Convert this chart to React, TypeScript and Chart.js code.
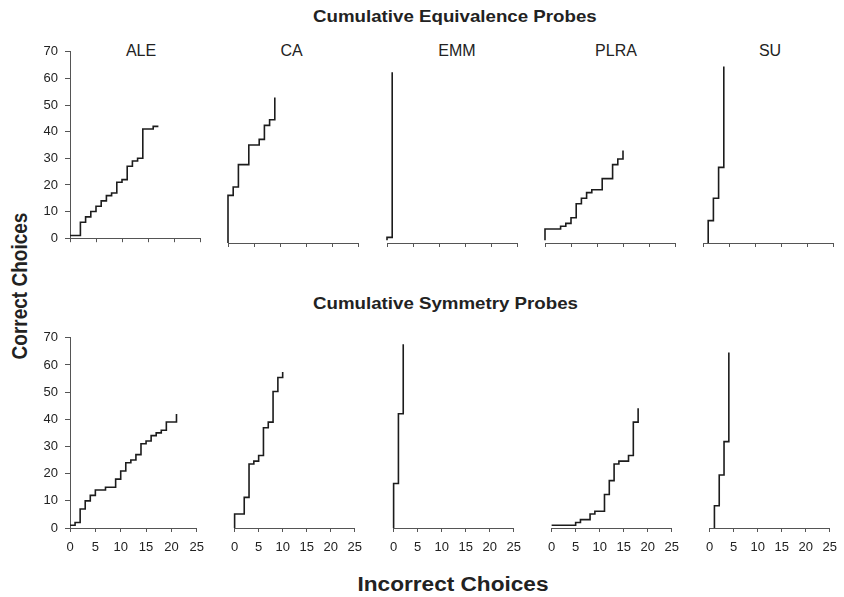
import React, { useEffect, useRef } from "react";
import { Chart, registerables } from "chart.js";
Chart.register(...registerables);

const subjects = ["ALE", "CA", "EMM", "PLRA", "SU"];
const rowTitles = ["Cumulative Equivalence Probes", "Cumulative Symmetry Probes"];
const yTickValues = [0, 10, 20, 30, 40, 50, 60, 70];
const xTickValues = [0, 5, 10, 15, 20, 25];
const yAxisTitle = "Correct Choices";
const xAxisTitle = "Incorrect Choices";

// Equivalence probes: incorrect choices (x) vs correct choices (y), step vertices
const aleEqX = [0, 2, 3, 4, 5, 6, 7, 8, 9, 10, 11, 12, 13, 14, 16, 17];
const aleEqY = [1, 6, 8, 10, 12, 14, 16, 17, 21, 22, 27, 29, 30, 41, 42, 42];
const caEqX = [0, 0, 1, 2, 4, 6, 7, 8, 9];
const caEqY = [0, 17, 20, 28, 35, 37, 42, 44, 52];
const emmEqX = [0, 0, 1];
const emmEqY = [1, 2, 61];
const plraEqX = [0, 0, 3, 4, 5, 6, 7, 8, 9, 11, 13, 14, 15];
const plraEqY = [1, 5, 6, 7, 9, 14, 16, 18, 19, 23, 28, 30, 33];
const suEqX = [1, 1, 2, 3, 4];
const suEqY = [0, 8, 16, 27, 63];

// Symmetry probes
const aleSymX = [0, 1, 2, 3, 4, 5, 7, 9, 10, 11, 12, 13, 14, 15, 16, 17, 18, 19, 21];
const aleSymY = [1, 2, 7, 10, 12, 14, 15, 18, 21, 24, 25, 27, 31, 32, 34, 35, 36, 39, 42];
const caSymX = [0, 0, 2, 3, 4, 5, 6, 7, 8, 9, 10];
const caSymY = [0, 5, 11, 23, 24, 26, 36, 38, 49, 54, 56];
const emmSymX = [0, 0, 1, 2];
const emmSymY = [0, 16, 41, 66];
const plraSymX = [0, 5, 6, 8, 9, 11, 12, 13, 14, 16, 17, 18];
const plraSymY = [1, 2, 3, 5, 6, 12, 17, 23, 24, 26, 38, 43];
const suSymX = [1, 1, 2, 3, 4];
const suSymY = [0, 8, 19, 31, 63];

const seriesX = [
  [aleEqX, caEqX, emmEqX, plraEqX, suEqX],
  [aleSymX, caSymX, emmSymX, plraSymX, suSymX],
];
const seriesY = [
  [aleEqY, caEqY, emmEqY, plraEqY, suEqY],
  [aleSymY, caSymY, emmSymY, plraSymY, suSymY],
];

// layout
const COL_X0 = [70, 228, 387, 545, 703];
const PLOT_W = 130;
const ROW_TOP = [47, 333];
const ROW_BOTTOM = [243, 528];
const PAD_TOP = 10;
const PAD_LEFT = 5;
const PAD_RIGHT = 12;
const PAD_BOTTOM = 2;
const Y_AXIS_W = 40;
const FONT = "'Liberation Sans', Arial, Helvetica, sans-serif";

function Panel({ row, col }: { row: number; col: number }) {
  const ref = useRef<HTMLCanvasElement | null>(null);
  const yW = col === 0 ? Y_AXIS_W : 0;
  const xH = row === 0 ? 8 : 28;
  const plotH = ROW_BOTTOM[row] - ROW_TOP[row];
  const width = PAD_LEFT + yW + PLOT_W + PAD_RIGHT;
  const height = PAD_TOP + plotH + xH + PAD_BOTTOM;
  const left = COL_X0[col] - PAD_LEFT - yW;
  const top = ROW_TOP[row] - PAD_TOP;

  useEffect(() => {
    const xs = seriesX[row][col];
    const ys = seriesY[row][col];
    const chart = new Chart(ref.current as HTMLCanvasElement, {
      type: "line",
      data: {
        datasets: [
          {
            data: xs.map((x, i) => ({ x, y: ys[i] })),
            borderColor: "#1c1c1c",
            borderWidth: 1.6,
            pointRadius: 0,
            fill: false,
            stepped: true,
            tension: 0,
            clip: false as any,
          },
        ],
      },
      options: {
        animation: false,
        responsive: false,
        maintainAspectRatio: false,
        devicePixelRatio: 1,
        layout: { padding: { top: PAD_TOP, left: PAD_LEFT, right: PAD_RIGHT, bottom: PAD_BOTTOM } },
        plugins: { legend: { display: false }, tooltip: { enabled: false }, title: { display: false } },
        scales: {
          x: {
            type: "linear",
            min: 0,
            max: 25,
            grid: { display: true, drawOnChartArea: false, drawTicks: true, tickLength: 4, color: "#555" },
            border: { display: true, color: "#555", width: 1 },
            ticks: {
              display: row === 1,
              padding: 8,
              color: "#222",
              autoSkip: false,
              maxRotation: 0,
              font: { family: FONT, size: 13 },
            },
            afterBuildTicks: (s: any) => {
              s.ticks = xTickValues.map((v) => ({ value: v }));
            },
            afterFit: (s: any) => {
              s.height = xH;
            },
          },
          y: {
            type: "linear",
            display: col === 0,
            min: 0,
            max: 70,
            grid: { display: true, drawOnChartArea: false, drawTicks: true, tickLength: 5, color: "#555" },
            border: { display: true, color: "#555", width: 1 },
            ticks: {
              padding: 7,
              color: "#222",
              autoSkip: false,
              font: { family: FONT, size: 13 },
            },
            afterBuildTicks: (s: any) => {
              s.ticks = yTickValues.map((v) => ({ value: v }));
            },
            afterFit: (s: any) => {
              s.width = yW;
            },
          },
        },
      },
    });
    return () => chart.destroy();
  }, [row, col]);

  return (
    <canvas
      ref={ref}
      width={width}
      height={height}
      style={{ position: "absolute", left, top, width, height }}
    />
  );
}

const PANEL_TITLE_X = [141, 291.5, 457, 616, 770];
const ROW_TITLE_Y = [17, 304];

export default function App() {
  const panels: JSX.Element[] = [];
  for (let r = 0; r < 2; r++) for (let c = 0; c < 5; c++) panels.push(<Panel key={`${r}-${c}`} row={r} col={c} />);
  return (
    <div
      style={{
        position: "fixed",
        left: 0,
        top: 0,
        width: 844,
        height: 597,
        background: "#fff",
        fontFamily: FONT,
        color: "#222",
        overflow: "hidden",
      }}
    >
      {rowTitles.map((t, i) => (
        <div
          key={t}
          style={{
            position: "absolute",
            left: 313,
            top: ROW_TITLE_Y[i] - 11,
            height: 22,
            lineHeight: "22px",
            whiteSpace: "nowrap",
            fontWeight: "bold",
            fontSize: 17,
            transform: "scaleX(1.1)",
            transformOrigin: "left center",
          }}
        >
          {t}
        </div>
      ))}
      {subjects.map((s, i) => (
        <div
          key={s}
          style={{
            position: "absolute",
            left: PANEL_TITLE_X[i] - 50,
            width: 100,
            top: 50.5 - 9,
            height: 18,
            lineHeight: "18px",
            textAlign: "center",
            fontSize: 16,
          }}
        >
          {s}
        </div>
      ))}
      <div
        style={{
          position: "absolute",
          left: 19.5 - 100,
          top: 286 - 12,
          width: 200,
          height: 24,
          lineHeight: "24px",
          textAlign: "center",
          fontWeight: "bold",
          fontSize: 19,
          whiteSpace: "nowrap",
          transform: "scaleX(1.15) rotate(-90deg)",
        }}
      >
        {yAxisTitle}
      </div>
      <div
        style={{
          position: "absolute",
          left: 453 - 150,
          top: 584 - 12,
          width: 300,
          height: 24,
          lineHeight: "24px",
          textAlign: "center",
          fontWeight: "bold",
          fontSize: 19.5,
          whiteSpace: "nowrap",
          transform: "scaleX(1.16)",
        }}
      >
        {xAxisTitle}
      </div>
      {panels}
    </div>
  );
}
